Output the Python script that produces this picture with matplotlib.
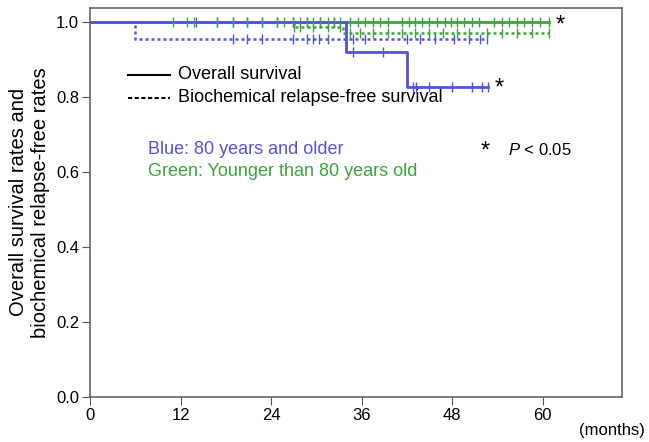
import matplotlib.pyplot as plt
import numpy as np

# step curves: event times and survival after each step
blue_os_t = [0, 33.9, 42.0, 52.8]
blue_os_s = [1.0, 0.919, 0.827, 0.827]
blue_bf_t = [0, 6.0, 52.6]
blue_bf_s = [1.0, 0.954, 0.954]
green_os_t = [0, 60.8]
green_os_s = [1.0, 1.0]
green_bf_t = [0, 27.0, 33.5, 60.8]
green_bf_s = [1.0, 0.985, 0.971, 0.971]

# censor times (months)
blue_os_cens = [14.0, 16.8, 18.9, 20.8, 22.8, 24.8, 26.9, 28.7, 30.5, 32.4,
                34.9, 38.8, 42.8, 43.2, 45.0, 48.0, 50.7, 51.9, 52.8]
blue_bf_cens = [18.9, 20.8, 22.8, 26.9, 28.7, 29.5, 30.4, 31.5, 34.8, 36.4,
                42.0, 43.7, 45.7, 48.3, 50.3, 51.7, 52.6]
green_os_cens = [11.0, 12.8, 13.8, 16.8, 18.9, 20.8, 22.8, 24.8, 25.7, 26.9,
                 27.8, 28.7, 29.5, 30.5, 31.5, 32.4, 33.1, 34.4, 35.5, 36.4,
                 37.5, 38.5, 39.5, 41.3, 42.3, 43.1, 44.0, 45.0, 46.0, 47.0,
                 47.8, 48.7, 49.6, 50.6, 51.6, 53.6, 54.6, 55.6, 56.6, 57.6,
                 58.6, 59.7, 60.8]
green_bf_cens = [27.0, 27.8, 29.5, 31.5, 33.1, 34.4, 35.8, 37.5, 39.5, 41.3,
                 43.1, 45.0, 46.8, 48.6, 50.3, 52.6, 54.6, 56.6, 58.6, 60.8]

xticks = [0, 12, 24, 36, 48, 60]
yticks = [0.0, 0.2, 0.4, 0.6, 0.8, 1.0]

BLUE = "#5353e0"
GREEN = "#3aa63a"

plt.rcParams["font.family"] = ["Liberation Sans", "DejaVu Sans"]
plt.rcParams["mathtext.fontset"] = "custom"
plt.rcParams["mathtext.it"] = "Liberation Sans:italic"


def surv_at(t_list, s_list, times):
    t = np.array(t_list)
    s = np.array(s_list)
    idx = np.searchsorted(t, times, side="right") - 1
    return s[idx]


fig = plt.figure(figsize=(6.49, 4.42), dpi=100)
ax = fig.add_axes([0.139, 0.102, 0.819, 0.880])

ax.step(blue_bf_t, blue_bf_s, where="post", color=BLUE, lw=1.8, ls=(0, (1.2, 1.2)), zorder=2)
ax.plot(blue_bf_cens, surv_at(blue_bf_t, blue_bf_s, blue_bf_cens), ls="none",
        marker="|", ms=7, mew=1.0, color=BLUE, zorder=2)

ax.step(green_bf_t, green_bf_s, where="post", color=GREEN, lw=1.8, ls=(0, (1.2, 1.2)), zorder=3)
ax.plot(green_bf_cens, surv_at(green_bf_t, green_bf_s, green_bf_cens), ls="none",
        marker="|", ms=7, mew=1.0, color=GREEN, zorder=3)

ax.step(green_os_t, green_os_s, where="post", color=GREEN, lw=2.0, zorder=4)
ax.step(blue_os_t, blue_os_s, where="post", color=BLUE, lw=2.0, zorder=5)
ax.plot(blue_os_cens, surv_at(blue_os_t, blue_os_s, blue_os_cens), ls="none",
        marker="|", ms=7, mew=1.0, color=BLUE, zorder=5)
ax.plot(green_os_cens, surv_at(green_os_t, green_os_s, green_os_cens), ls="none",
        marker="|", ms=7, mew=1.0, color=GREEN, zorder=6)

# legend drawn by hand
ax.plot([5.0, 10.6], [0.859, 0.859], color="black", lw=1.5)
ax.plot([5.0, 10.6], [0.797, 0.797], color="black", lw=1.5, ls=(0, (2, 1.2)))
ax.text(11.7, 0.859, "Overall survival", fontsize=13, va="center")
ax.text(11.7, 0.797, "Biochemical relapse-free survival", fontsize=13, va="center")

ax.text(7.6, 0.659, "Blue: 80 years and older", color=BLUE, fontsize=13, va="center")
ax.text(7.6, 0.600, "Green: Younger than 80 years old", color=GREEN, fontsize=13, va="center")

ax.text(52.4, 0.654, "*", fontsize=17, va="center", ha="center")
ax.text(55.4, 0.659, "$P$ < 0.05", fontsize=12, va="center")
ax.text(62.3, 0.991, "*", fontsize=17, va="center", ha="center")
ax.text(54.3, 0.821, "*", fontsize=17, va="center", ha="center")

ax.set_xlim(0, 70.5)
ax.set_ylim(0, 1.037)
ax.set_xticks(xticks)
ax.set_yticks(yticks)
ax.set_yticklabels(["%.1f" % v for v in yticks])
ax.tick_params(labelsize=12, direction="out", length=6, pad=2, color="#555555")
for sp in ax.spines.values():
    sp.set_color("#666666")
    sp.set_linewidth(1.2)

ax.set_ylabel("Overall survival rates and\nbiochemical relapse-free rates", fontsize=14.5, labelpad=4)
fig.text(0.994, 0.008, "(months)", fontsize=12, ha="right", va="bottom")

fig.savefig("out.png", dpi=100)
